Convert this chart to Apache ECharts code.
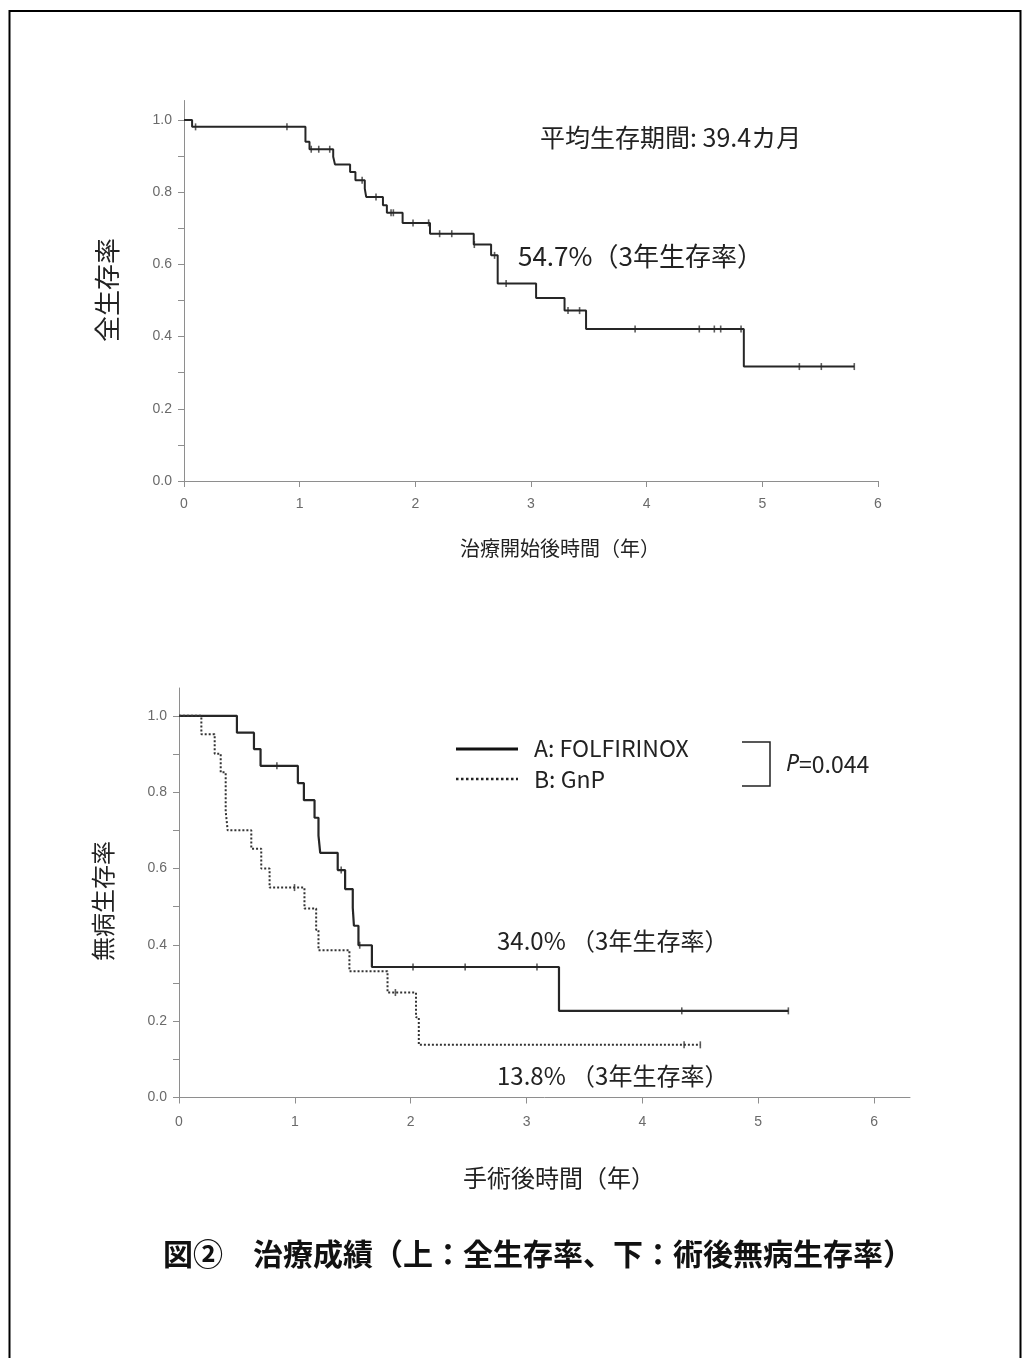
<!DOCTYPE html>
<html><head><meta charset="utf-8">
<script src="https://cdn.jsdelivr.net/npm/echarts@6/dist/echarts.min.js"></script>
<style>html,body{margin:0;padding:0;background:#fff}#c{width:1032px;height:1358px}</style>
</head><body><div id="c"></div><script>
// ---- tick values ----
const xTickValues = [0, 1, 2, 3, 4, 5, 6];
const yTickValues = [0, 0.1, 0.2, 0.3, 0.4, 0.5, 0.6, 0.7, 0.8, 0.9, 1.0];
const yLabelValues = [0, 0.2, 0.4, 0.6, 0.8, 1.0];

// ---- top: overall survival (years, survival) ----
const osTimes = [0, 0.07, 1.05, 1.085, 1.29, 1.305, 1.436, 1.482, 1.563, 1.575, 1.72, 1.754, 1.89, 2.127, 2.505, 2.655, 2.712, 3.044, 3.29, 3.476, 4.84, 5.795];
const osSurv  = [1, 0.981, 0.94, 0.919, 0.898, 0.877, 0.856, 0.833, 0.81, 0.787, 0.764, 0.743, 0.715, 0.685, 0.655, 0.625, 0.547, 0.507, 0.472, 0.421, 0.317, 0.317];
const osCensor = [0.1, 0.89, 1.1, 1.165, 1.26, 1.54, 1.66, 1.79, 1.81, 1.98, 2.115, 2.21, 2.315, 2.51, 2.685, 2.785, 3.32, 3.42, 3.9, 4.455, 4.585, 4.64, 4.816, 5.32, 5.51, 5.795];

// ---- bottom: disease-free survival ----
const aTimes = [0, 0.5, 0.647, 0.704, 1.026, 1.078, 1.17, 1.204, 1.219, 1.37, 1.434, 1.5, 1.51, 1.549, 1.665, 3.28, 5.26];
const aSurv  = [1, 0.956, 0.913, 0.869, 0.824, 0.779, 0.733, 0.686, 0.641, 0.596, 0.546, 0.497, 0.45, 0.399, 0.342, 0.227, 0.227];
const aCensor = [0.845, 1.4, 1.56, 2.02, 2.47, 3.09, 4.34, 5.26];

const bTimes = [0, 0.193, 0.308, 0.36, 0.403, 0.42, 0.624, 0.71, 0.782, 1.083, 1.184, 1.204, 1.471, 1.8, 2.046, 2.07, 4.5];
const bSurv  = [1, 0.952, 0.901, 0.852, 0.75, 0.7, 0.652, 0.6, 0.55, 0.495, 0.439, 0.386, 0.331, 0.275, 0.21, 0.138, 0.138];
const bCensor = [0.997, 1.868, 4.36, 4.5];

function stepData(t, s) { return t.map((x, i) => [x, s[i]]); }
function stepAt(t, s, x) { let v = s[0]; for (let i = 0; i < t.length; i++) { if (t[i] <= x) v = s[i]; } return v; }
function censorData(c, t, s) { return c.map(x => [x, stepAt(t, s, x)]); }

const axisGray = '#8e8e8e';
const labelStyle = { color: '#6a6a6a', fontSize: 14, fontFamily: '"Liberation Sans Narrow", "Liberation Sans", Arial, sans-serif' };
const jp = '"Noto Sans CJK JP", sans-serif';
const tickMark = 'path://M0,0 L1,0 L1,1 L0,1 Z';

function xAxis(gi, max, margin) {
  return {
    type: 'value', gridIndex: gi, min: 0, max: max,
    axisLine: { show: true, onZero: false, lineStyle: { color: axisGray, width: 1 } },
    axisTick: { show: true, length: 6, customValues: xTickValues, lineStyle: { color: axisGray } },
    axisLabel: Object.assign({ customValues: xTickValues, margin: margin, formatter: v => String(Math.round(v)) }, labelStyle),
    splitLine: { show: false }
  };
}
function yAxis(gi, max) {
  return {
    type: 'value', gridIndex: gi, min: 0, max: max,
    axisLine: { show: true, onZero: false, lineStyle: { color: axisGray, width: 1 } },
    axisTick: { show: true, length: 6, customValues: yTickValues, lineStyle: { color: axisGray } },
    axisLabel: Object.assign({ customValues: yLabelValues, margin: 12, formatter: v => v.toFixed(1) }, labelStyle),
    splitLine: { show: false }
  };
}

const chart = echarts.init(document.getElementById('c'), null, { renderer: 'canvas' });
chart.setOption({
  backgroundColor: '#fff',
  animation: false,
  grid: [
    { left: 184, top: 100.5, width: 694, height: 380.5 },
    { left: 179, top: 688, width: 731, height: 409.5 }
  ],
  xAxis: [xAxis(0, 6, 16), xAxis(1, 6.31, 18)],
  yAxis: [yAxis(0, 1.054), yAxis(1, 1.073)],
  series: [
    { type: 'line', xAxisIndex: 0, yAxisIndex: 0, step: 'end', showSymbol: false, data: stepData(osTimes, osSurv),
      lineStyle: { color: '#262626', width: 2 } },
    { type: 'scatter', xAxisIndex: 0, yAxisIndex: 0, symbol: tickMark, symbolSize: [1.6, 7], data: censorData(osCensor, osTimes, osSurv),
      itemStyle: { color: '#333' } },
    { type: 'line', xAxisIndex: 1, yAxisIndex: 1, step: 'end', showSymbol: false, data: stepData(aTimes, aSurv),
      lineStyle: { color: '#262626', width: 2.2 } },
    { type: 'scatter', xAxisIndex: 1, yAxisIndex: 1, symbol: tickMark, symbolSize: [1.6, 7], data: censorData(aCensor, aTimes, aSurv),
      itemStyle: { color: '#333' } },
    { type: 'line', xAxisIndex: 1, yAxisIndex: 1, step: 'end', showSymbol: false, data: stepData(bTimes, bSurv),
      lineStyle: { color: '#333', width: 2, type: [2, 2] } },
    { type: 'scatter', xAxisIndex: 1, yAxisIndex: 1, symbol: tickMark, symbolSize: [1.6, 7], data: censorData(bCensor, bTimes, bSurv),
      itemStyle: { color: '#333' } }
  ],
  graphic: [
    { type: 'rect', shape: { x: 9.5, y: 11, width: 1011, height: 1400 }, style: { fill: 'none', stroke: '#000', lineWidth: 2 } },
    // top annotations
    { type: 'text', x: 540, y: 137, style: { text: '平均生存期間: 39.4カ月', font: '25px ' + jp, fill: '#222', align: 'left', verticalAlign: 'middle' } },
    { type: 'text', x: 518, y: 256, style: { text: '54.7%（3年生存率）', font: '26px ' + jp, fill: '#222', align: 'left', verticalAlign: 'middle' } },
    { type: 'text', x: 107, y: 290, rotation: Math.PI / 2, style: { text: '全生存率', font: '26px ' + jp, fill: '#222', align: 'center', verticalAlign: 'middle' } },
    { type: 'text', x: 560, y: 548, style: { text: '治療開始後時間（年）', font: '20px ' + jp, fill: '#222', align: 'center', verticalAlign: 'middle' } },
    // bottom annotations
    { type: 'text', x: 103, y: 901, rotation: Math.PI / 2, style: { text: '無病生存率', font: '24px ' + jp, fill: '#222', align: 'center', verticalAlign: 'middle' } },
    { type: 'text', x: 559, y: 1178, style: { text: '手術後時間（年）', font: '24px ' + jp, fill: '#222', align: 'center', verticalAlign: 'middle' } },
    { type: 'text', x: 497, y: 941, style: { text: '34.0% （3年生存率）', font: '24px ' + jp, fill: '#222', align: 'left', verticalAlign: 'middle' } },
    { type: 'text', x: 497, y: 1076, style: { text: '13.8% （3年生存率）', font: '24px ' + jp, fill: '#222', align: 'left', verticalAlign: 'middle' } },
    // legend
    { type: 'line', shape: { x1: 456, y1: 749, x2: 518, y2: 749 }, style: { stroke: '#111', lineWidth: 3 } },
    { type: 'line', shape: { x1: 456, y1: 779, x2: 518, y2: 779 }, style: { stroke: '#222', lineWidth: 2.5, lineDash: [2.5, 2.5] } },
    { type: 'text', x: 534, y: 748, style: { text: 'A: FOLFIRINOX', font: '23px ' + jp, fill: '#222', align: 'left', verticalAlign: 'middle' } },
    { type: 'text', x: 534, y: 779, style: { text: 'B: GnP', font: '23px ' + jp, fill: '#222', align: 'left', verticalAlign: 'middle' } },
    { type: 'polyline', shape: { points: [[742, 742], [770, 742], [770, 786], [742, 786]] }, style: { fill: 'none', stroke: '#222', lineWidth: 1.5 } },
    { type: 'text', x: 786, y: 764, style: { text: '{i|P}=0.044', font: '23px ' + jp, fill: '#222', align: 'left', verticalAlign: 'middle',
      rich: { i: { fontStyle: 'italic', fontSize: 23, fontFamily: '"Noto Sans", sans-serif', fill: '#222' } } } },
    // caption
    { type: 'text', x: 163, y: 1254, style: { text: '図②　治療成績（上：全生存率、下：術後無病生存率）', font: 'bold 30px ' + jp, fill: '#111', align: 'left', verticalAlign: 'middle' } }
  ]
});
</script></body></html>
